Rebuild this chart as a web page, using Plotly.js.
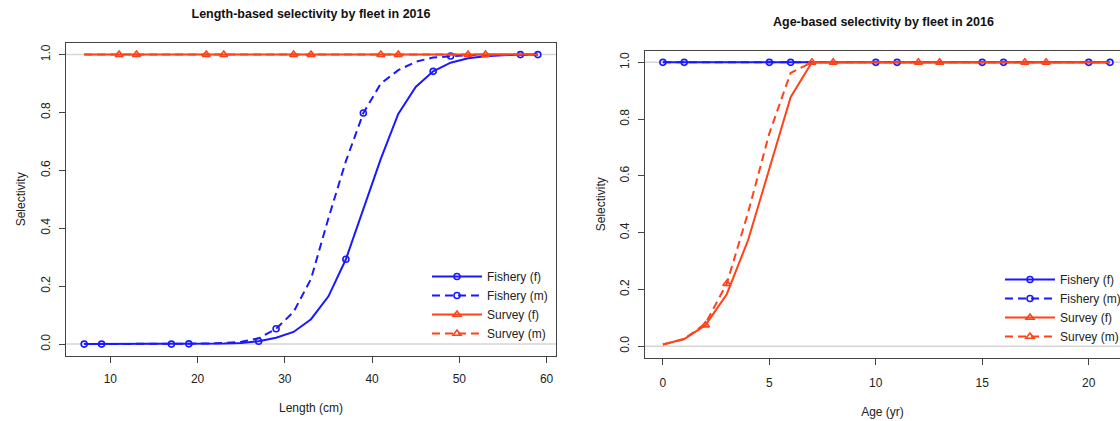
<!DOCTYPE html>
<html>
<head>
<meta charset="utf-8">
<script src="https://cdn.plot.ly/plotly-3.0.1.min.js"></script>
<style>html,body{margin:0;padding:0;background:#fff;}#chart{width:1120px;height:421px;}</style>
</head>
<body>
<div id="chart"></div>
<script>
// ---- data ----
var lengthBins = [7,9,11,13,15,17,19,21,23,25,27,29,31,33,35,37,39,41,43,45,47,49,51,53,55,57,59];
var fisheryF_len = [0,0,0,0,0,0,0,0.001,0.002,0.004,0.01,0.022,0.042,0.086,0.165,0.293,0.47,0.64,0.795,0.888,0.942,0.972,0.987,0.994,0.998,1,1];
var fisheryM_len = [0,0,0,0,0,0,0.001,0.002,0.004,0.008,0.02,0.053,0.111,0.225,0.435,0.632,0.798,0.9,0.946,0.975,0.99,0.995,0.998,0.999,1,1,1];
var surveyF_len = [1,1,1,1,1,1,1,1,1,1,1,1,1,1,1,1,1,1,1,1,1,1,1,1,1,1,1];
var surveyM_len = [1,1,1,1,1,1,1,1,1,1,1,1,1,1,1,1,1,1,1,1,1,1,1,1,1,1,1];

var ages = [0,1,2,3,4,5,6,7,8,9,10,11,12,13,14,15,16,17,18,19,20,21];
var fisheryF_age = [1,1,1,1,1,1,1,1,1,1,1,1,1,1,1,1,1,1,1,1,1,1];
var fisheryM_age = [1,1,1,1,1,1,1,1,1,1,1,1,1,1,1,1,1,1,1,1,1,1];
var surveyF_age = [0.006,0.025,0.074,0.183,0.373,0.626,0.877,1,1,1,1,1,1,1,1,1,1,1,1,1,1,1];
var surveyM_age = [0.006,0.025,0.08,0.22,0.47,0.75,0.963,1,1,1,1,1,1,1,1,1,1,1,1,1,1,1];

var seriesNames = ['Fishery (f)','Fishery (m)','Survey (f)','Survey (m)'];
var titleLen = 'Length-based selectivity by fleet in 2016';
var titleAge = 'Age-based selectivity by fleet in 2016';
var xTitleLen = 'Length (cm)';
var xTitleAge = 'Age (yr)';
var yTitle = 'Selectivity';

// ---- styling ----
var FONT = 'Liberation Sans, Arial, Helvetica, sans-serif';
var BLUE = 'rgb(25,25,255)';
var RED = 'rgb(255,66,24)';
var styles = [
  {color: BLUE, dash: 'solid', symbol: 'circle-open', size: 6, offset: 0},
  {color: BLUE, dash: '8px,5px', symbol: 'circle-open', size: 6, offset: 1},
  {color: RED, dash: 'solid', symbol: 'triangle-up-open', size: 7, offset: 2},
  {color: RED, dash: '8px,5px', symbol: 'triangle-up-open', size: 7, offset: 3}
];

function markIdx(n, off) {
  var out = [];
  for (var i = 0; i < n; i++) if (i % 5 === off) out.push(i);
  return out;
}

function makeTrace(x, y, k, xa, ya, leg) {
  var s = styles[k];
  return {
    type: 'scatter', mode: 'lines+markers',
    x: x, y: y, xaxis: xa, yaxis: ya,
    name: seriesNames[k], legend: leg,
    line: {color: s.color, width: 2, dash: s.dash},
    marker: {color: s.color, symbol: s.symbol, size: s.size, line: {width: 1.6, color: s.color}},
    selectedpoints: markIdx(x.length, s.offset),
    selected: {marker: {opacity: 1}},
    unselected: {marker: {opacity: 0}},
    hoverinfo: 'x+y+name'
  };
}

var lenSeries = [fisheryF_len, fisheryM_len, surveyF_len, surveyM_len];
var ageSeries = [fisheryF_age, fisheryM_age, surveyF_age, surveyM_age];
var traces = [];
for (var k = 0; k < 4; k++) traces.push(makeTrace(lengthBins, lenSeries[k], k, 'x', 'y', 'legend'));
for (var k = 0; k < 4; k++) traces.push(makeTrace(ages, ageSeries[k], k, 'x2', 'y2', 'legend2'));

var W = 1120, H = 421;
function px(v) { return v / W; }
function py(v) { return 1 - v / H; }

var axisCommon = {
  showline: true, linecolor: '#444', linewidth: 1,
  ticks: 'outside', ticklen: 6, tickwidth: 1, tickcolor: '#444',
  showgrid: false, zeroline: false,
  tickfont: {family: FONT, size: 12, color: '#222'},
  fixedrange: true
};
function ax(extra) { return Object.assign({}, axisCommon, extra); }

var refLine = function (xref, yref, yv) {
  return {type: 'line', xref: xref, yref: yref, x0: 0, x1: 1, y0: yv, y1: yv,
          line: {color: '#d6d6d6', width: 1.5}, layer: 'below'};
};

var layout = {
  width: W, height: H,
  margin: {l: 0, r: 0, t: 0, b: 0, autoexpand: false},
  paper_bgcolor: '#fff', plot_bgcolor: '#fff',
  font: {family: FONT, size: 12, color: '#222'},
  title: {text: titleLen, x: px(311), xanchor: 'center', y: py(14), yanchor: 'middle',
          font: {family: FONT, size: 12.5, weight: 700, color: '#111'}},
  xaxis: ax({domain: [px(66), px(556)], range: [4.92, 61.08], tick0: 0, dtick: 10, anchor: 'y', mirror: true,
             ticklabelstandoff: 6,
             title: {text: xTitleLen, font: {family: FONT, size: 12, color: '#222'}, standoff: 18}}),
  yaxis: ax({domain: [py(355.7), py(43)], range: [-0.04, 1.04], tick0: 0, dtick: 0.2, tickformat: '.1f',
             tickangle: -90, anchor: 'x', mirror: true, ticklabelstandoff: 4,
             title: {text: yTitle, font: {family: FONT, size: 12, color: '#222'}, standoff: 10}}),
  xaxis2: ax({domain: [px(645), 1], range: [-0.84, 21.47], tick0: 0, dtick: 5, anchor: 'y2', mirror: true,
              ticklabelstandoff: 8,
              title: {text: xTitleAge, font: {family: FONT, size: 12, color: '#222'}, standoff: 18}}),
  yaxis2: ax({domain: [py(357.5), py(51)], range: [-0.04, 1.04], tick0: 0, dtick: 0.2, tickformat: '.1f',
              tickangle: -90, anchor: 'x2', mirror: false, ticklabelstandoff: 4,
              title: {text: yTitle, font: {family: FONT, size: 12, color: '#222'}, standoff: 10}}),
  legend: {x: px(427), xanchor: 'left', y: py(262), yanchor: 'top', bgcolor: 'rgba(0,0,0,0)',
           itemwidth: 50, font: {family: FONT, size: 12, color: '#222'}, tracegroupgap: 0},
  legend2: {x: px(1000), xanchor: 'left', y: py(265), yanchor: 'top', bgcolor: 'rgba(0,0,0,0)',
            itemwidth: 50, font: {family: FONT, size: 12, color: '#222'}, tracegroupgap: 0},
  showlegend: true,
  annotations: [
    {text: titleAge, xref: 'paper', yref: 'paper', x: px(883.5), y: py(22), xanchor: 'center', yanchor: 'middle',
     showarrow: false, font: {family: FONT, size: 12.5, weight: 700, color: '#111'}}
  ],
  shapes: [refLine('x domain', 'y', 0), refLine('x domain', 'y', 1),
           refLine('x2 domain', 'y2', 0), refLine('x2 domain', 'y2', 1)]
};

Plotly.newPlot('chart', traces, layout, {displayModeBar: false, staticPlot: true});
</script>
</body>
</html>
